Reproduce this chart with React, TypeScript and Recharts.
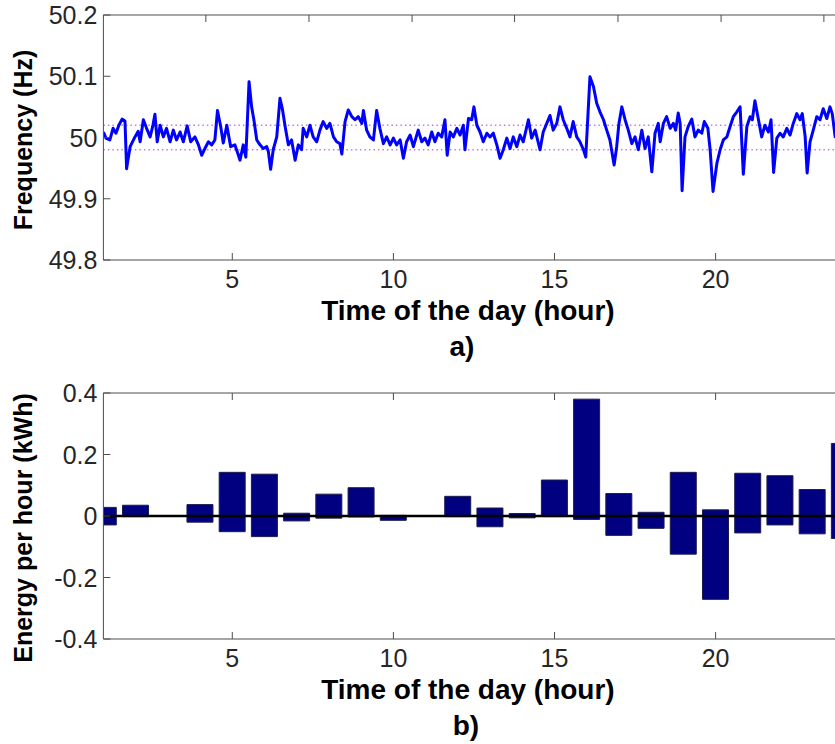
import React from "react";
import {
  LineChart,
  ComposedChart,
  Line,
  Bar,
  XAxis,
  YAxis,
  ReferenceLine,
} from "recharts";

// a) grid frequency through the day (hour, Hz)
const freqHours = [
  1.0, 1.08, 1.2, 1.3, 1.39, 1.48, 1.58, 1.67, 1.72, 1.76, 1.83, 1.98, 2.08,
  2.14, 2.24, 2.34, 2.45, 2.53, 2.6, 2.67, 2.76, 2.86, 2.96, 3.07, 3.17, 3.27,
  3.38, 3.48, 3.6, 3.71, 3.84, 3.95, 4.05, 4.15, 4.26, 4.36, 4.46, 4.54, 4.64,
  4.72, 4.83, 4.95, 5.08, 5.19, 5.24, 5.34, 5.42, 5.52, 5.6, 5.67, 5.76, 5.86,
  5.96, 6.07, 6.12, 6.19, 6.27, 6.38, 6.48, 6.56, 6.64, 6.74, 6.84, 6.95, 7.05,
  7.15, 7.2, 7.31, 7.41, 7.51, 7.62, 7.72, 7.82, 7.93, 8.03, 8.14, 8.24, 8.34,
  8.4, 8.5, 8.6, 8.71, 8.81, 8.91, 9.02, 9.07, 9.17, 9.27, 9.38, 9.48, 9.58,
  9.69, 9.79, 9.9, 10.0, 10.1, 10.21, 10.31, 10.41, 10.52, 10.62, 10.77, 10.88,
  10.98, 11.08, 11.19, 11.29, 11.39, 11.5, 11.6, 11.67, 11.76, 11.86, 11.97,
  12.07, 12.17, 12.22, 12.33, 12.43, 12.5, 12.59, 12.69, 12.79, 12.9, 13.0,
  13.1, 13.21, 13.31, 13.41, 13.52, 13.62, 13.72, 13.83, 13.93, 14.03, 14.19,
  14.29, 14.4, 14.55, 14.65, 14.76, 14.86, 14.96, 15.07, 15.17, 15.27, 15.38,
  15.48, 15.58, 15.69, 15.79, 15.9, 15.97, 16.1, 16.21, 16.31, 16.41, 16.52,
  16.62, 16.72, 16.85, 16.93, 17.0, 17.09, 17.19, 17.29, 17.4, 17.5, 17.6,
  17.71, 17.81, 17.91, 18.02, 18.12, 18.22, 18.28, 18.38, 18.48, 18.59, 18.69,
  18.76, 18.84, 18.9, 18.96, 19.05, 19.15, 19.26, 19.36, 19.46, 19.57, 19.65,
  19.76, 19.83, 19.92, 20.04, 20.14, 20.24, 20.35, 20.45, 20.55, 20.66, 20.76,
  20.86, 20.97, 21.07, 21.14, 21.22, 21.33, 21.43, 21.53, 21.64, 21.72, 21.8,
  21.9, 22.0, 22.1, 22.21, 22.31, 22.41, 22.52, 22.62, 22.69, 22.78, 22.84,
  22.93, 23.03, 23.14, 23.24, 23.34, 23.45, 23.55, 23.62, 23.71, 23.8, 23.9,
  24.0,
];

const freqHz = [
  50.009, 49.999, 49.996, 50.015, 50.007, 50.02, 50.03, 50.027, 49.949, 49.963,
  49.985, 50.001, 50.01, 49.993, 50.029, 50.015, 50.001, 50.018, 50.038,
  49.993, 50.02, 50.001, 50.015, 49.993, 50.012, 49.996, 50.009, 49.993,
  50.019, 49.993, 50.001, 49.988, 49.971, 49.982, 49.993, 49.988, 49.996,
  50.044, 50.018, 49.991, 50.02, 49.985, 49.988, 49.971, 49.963, 49.988,
  49.968, 50.091, 50.05, 50.029, 49.996, 49.988, 49.982, 49.985, 49.977,
  49.948, 49.98, 50.001, 50.064, 50.045, 50.018, 49.988, 49.996, 49.963,
  49.988, 49.98, 50.015, 50.001, 50.02, 50.001, 49.993, 50.012, 50.026, 50.015,
  50.023, 50.001, 49.993, 49.99, 49.973, 50.026, 50.045, 50.034, 50.029,
  50.034, 50.023, 50.044, 50.012, 50.001, 49.996, 50.044, 50.015, 49.99,
  50.001, 49.988, 49.999, 49.988, 49.996, 49.966, 49.993, 50.004, 49.985,
  50.012, 49.993, 49.999, 49.988, 50.009, 49.993, 50.007, 50.001, 50.029,
  49.971, 50.009, 50.001, 50.015, 50.004, 50.02, 49.98, 50.031, 50.029, 50.05,
  50.02, 50.009, 49.993, 50.007, 50.001, 50.007, 49.988, 49.966, 49.98, 49.999,
  49.982, 50.001, 49.985, 50.004, 49.993, 50.029, 49.999, 50.012, 49.98,
  50.009, 50.023, 50.036, 50.012, 50.023, 50.05, 50.029, 50.015, 50.001,
  50.026, 50.001, 49.993, 49.98, 49.968, 50.099, 50.083, 50.056, 50.042,
  50.029, 50.012, 49.996, 49.955, 49.985, 50.023, 50.05, 50.029, 50.012, 49.99,
  50.001, 49.98, 50.012, 49.982, 50.001, 49.944, 50.007, 50.023, 49.993,
  50.023, 50.034, 50.015, 50.023, 50.012, 50.04, 50.023, 49.913, 50.001,
  50.018, 50.03, 50.001, 50.012, 50.007, 50.026, 50.015, 49.98, 49.912, 49.958,
  49.98, 49.996, 50.001, 50.018, 50.034, 50.042, 50.05, 49.94, 50.018, 50.034,
  50.029, 50.06, 50.029, 50.001, 50.02, 50.009, 50.029, 49.943, 49.999, 50.007,
  50.001, 50.015, 50.004, 50.023, 50.039, 50.029, 50.039, 50.001, 49.942,
  49.993, 50.012, 50.034, 50.029, 50.047, 50.031, 50.05, 50.039, 50.001,
  50.015, 50.02, 50.01,
];

const freqBand = [49.98, 50.02];
const freqTicks = [49.8, 49.9, 50, 50.1, 50.2];
const freqTopTicks = [4.18, 7.38, 10.58, 13.76, 16.97, 20.17, 23.36];
const hourTicks = [5, 10, 15, 20];

// b) energy per hour (kWh): each hour's bar runs from low to high
const energyHours = [1, 2, 4, 5, 6, 7, 8, 9, 10, 12, 13, 14, 15, 16, 17, 18, 19, 20, 21, 22, 23, 24];
const energyLow = [
  -0.029, -0.002, -0.02, -0.051, -0.067, -0.016, -0.007, -0.003, -0.014,
  -0.002, -0.035, -0.006, -0.002, -0.011, -0.063, -0.04, -0.124, -0.271,
  -0.055, -0.029, -0.058, -0.073,
];
const energyHigh = [
  0.028, 0.035, 0.037, 0.142, 0.136, 0.009, 0.071, 0.092, 0.002, 0.064, 0.026,
  0.008, 0.117, 0.38, 0.073, 0.012, 0.142, 0.02, 0.139, 0.131, 0.086, 0.236,
];
const energyTicks = [-0.4, -0.2, 0, 0.2, 0.4];

const freqData = freqHours.map((h, i) => ({ hour: h, freq: freqHz[i] }));
const energyData = energyHours.map((h, i) => ({
  hour: h,
  range: [energyLow[i], energyHigh[i]],
}));

const AXIS = "#4d4d4d";
const TEXT = "#262626";
const FONT = "'Liberation Sans', Arial, sans-serif";
const CHART_W = 870;
const MARGIN = { top: 14, right: 25.5, bottom: 72, left: 0 };

// MATLAB-style ticks point into the plot box
const LeftTick = (props: any) => {
  const { x, y, payload } = props;
  return (
    <g>
      <line x1={x} x2={x + 7} y1={y} y2={y} stroke={AXIS} />
      <text x={x - 6} y={y} dy="0.36em" textAnchor="end" fontSize={25} fill={TEXT} fontFamily={FONT}>
        {payload.value}
      </text>
    </g>
  );
};

const BottomTick = (props: any) => {
  const { x, y, payload } = props;
  return (
    <g>
      <line x1={x} x2={x} y1={y} y2={y - 7} stroke={AXIS} />
      <text x={x} y={y + 28} textAnchor="middle" fontSize={25} fill={TEXT} fontFamily={FONT}>
        {payload.value}
      </text>
    </g>
  );
};

const TopTick = (props: any) => {
  const { x, y } = props;
  return <line x1={x} x2={x} y1={y} y2={y + 7} stroke={AXIS} />;
};

const xTitle = (caption: string, captionShift: number) => (props: any) => {
  const vb = props.viewBox || { x: 103.4, y: 0, width: 741, height: 0 };
  const cx = vb.x + vb.width / 2;
  return (
    <g fontFamily={FONT} fontWeight="bold" fill="#000">
      <text x={cx - 6} y={vb.y + 60} textAnchor="middle" fontSize={28}>
        Time of the day (hour)
      </text>
      <text x={cx + captionShift} y={vb.y + 96} textAnchor="middle" fontSize={28}>
        {caption}
      </text>
    </g>
  );
};

const yTitle = (text: string, shift: number) => (props: any) => {
  const vb = props.viewBox || { x: 0, y: 0, width: 0, height: 0 };
  const cy = vb.y + vb.height / 2 + shift;
  return (
    <text
      x={32}
      y={cy}
      transform={`rotate(-90, 32, ${cy})`}
      textAnchor="middle"
      fontSize={25}
      fontWeight="bold"
      fill="#000"
      fontFamily={FONT}
    >
      {text}
    </text>
  );
};

const FrequencyChart = () => (
  <LineChart width={CHART_W} height={372} data={freqData} margin={MARGIN}>
    <XAxis
      dataKey="hour"
      type="number"
      domain={[1, 24]}
      ticks={hourTicks}
      allowDataOverflow
      height={40}
      stroke={AXIS}
      tickLine={false}
      tickSize={0}
      tickMargin={0}
      tick={<BottomTick />}
      label={{ content: xTitle("a)", -12) }}
    />
    <XAxis
      xAxisId="top"
      orientation="top"
      dataKey="hour"
      type="number"
      domain={[1, 24]}
      ticks={freqTopTicks}
      height={1}
      stroke={AXIS}
      tickLine={false}
      tickSize={0}
      tickMargin={0}
      tick={<TopTick />}
    />
    <YAxis
      type="number"
      domain={[49.8, 50.2]}
      ticks={freqTicks}
      width={103.4}
      stroke={AXIS}
      tickLine={false}
      tickSize={0}
      tickMargin={0}
      tick={<LeftTick />}
      label={{ content: yTitle("Frequency (Hz)", 2.5) }}
    />
    {freqBand.map((v) => (
      <ReferenceLine key={v} y={v} stroke="#cc77dd" strokeWidth={1.5} strokeDasharray="1.5 3" />
    ))}
    <Line
      type="linear"
      dataKey="freq"
      stroke="#0000ff"
      strokeWidth={3}
      strokeLinejoin="round"
      dot={false}
      isAnimationActive={false}
    />
  </LineChart>
);

const EnergyChart = () => (
  <ComposedChart width={CHART_W} height={373} data={energyData} margin={MARGIN}>
    <XAxis
      dataKey="hour"
      type="number"
      domain={[1, 24]}
      ticks={hourTicks}
      allowDataOverflow
      height={40}
      stroke={AXIS}
      tickLine={false}
      tickSize={0}
      tickMargin={0}
      tick={<BottomTick />}
      label={{ content: xTitle("b)", -8) }}
    />
    <XAxis
      xAxisId="top"
      orientation="top"
      dataKey="hour"
      type="number"
      domain={[1, 24]}
      ticks={hourTicks}
      height={1}
      stroke={AXIS}
      tickLine={false}
      tickSize={0}
      tickMargin={0}
      tick={<TopTick />}
    />
    <YAxis
      type="number"
      domain={[-0.4, 0.4]}
      ticks={energyTicks}
      width={103.4}
      stroke={AXIS}
      tickLine={false}
      tickSize={0}
      tickMargin={0}
      tick={<LeftTick />}
      label={{ content: yTitle("Energy per hour (kWh)", 12) }}
    />
    <Bar
      dataKey="range"
      barSize={26}
      fill="#000080"
      stroke="#1c1c4a"
      strokeWidth={1}
      isAnimationActive={false}
    />
    <ReferenceLine y={0} stroke="#000" strokeWidth={2.5} />
  </ComposedChart>
);

export default function App() {
  return (
    <div
      style={{
        position: "fixed",
        left: 0,
        top: 0,
        width: 835,
        height: 744,
        overflow: "hidden",
        background: "#fff",
      }}
    >
      <div style={{ position: "absolute", left: 0, top: 0 }}>
        <FrequencyChart />
      </div>
      <div style={{ position: "absolute", left: 0, top: 378 }}>
        <EnergyChart />
      </div>
    </div>
  );
}
